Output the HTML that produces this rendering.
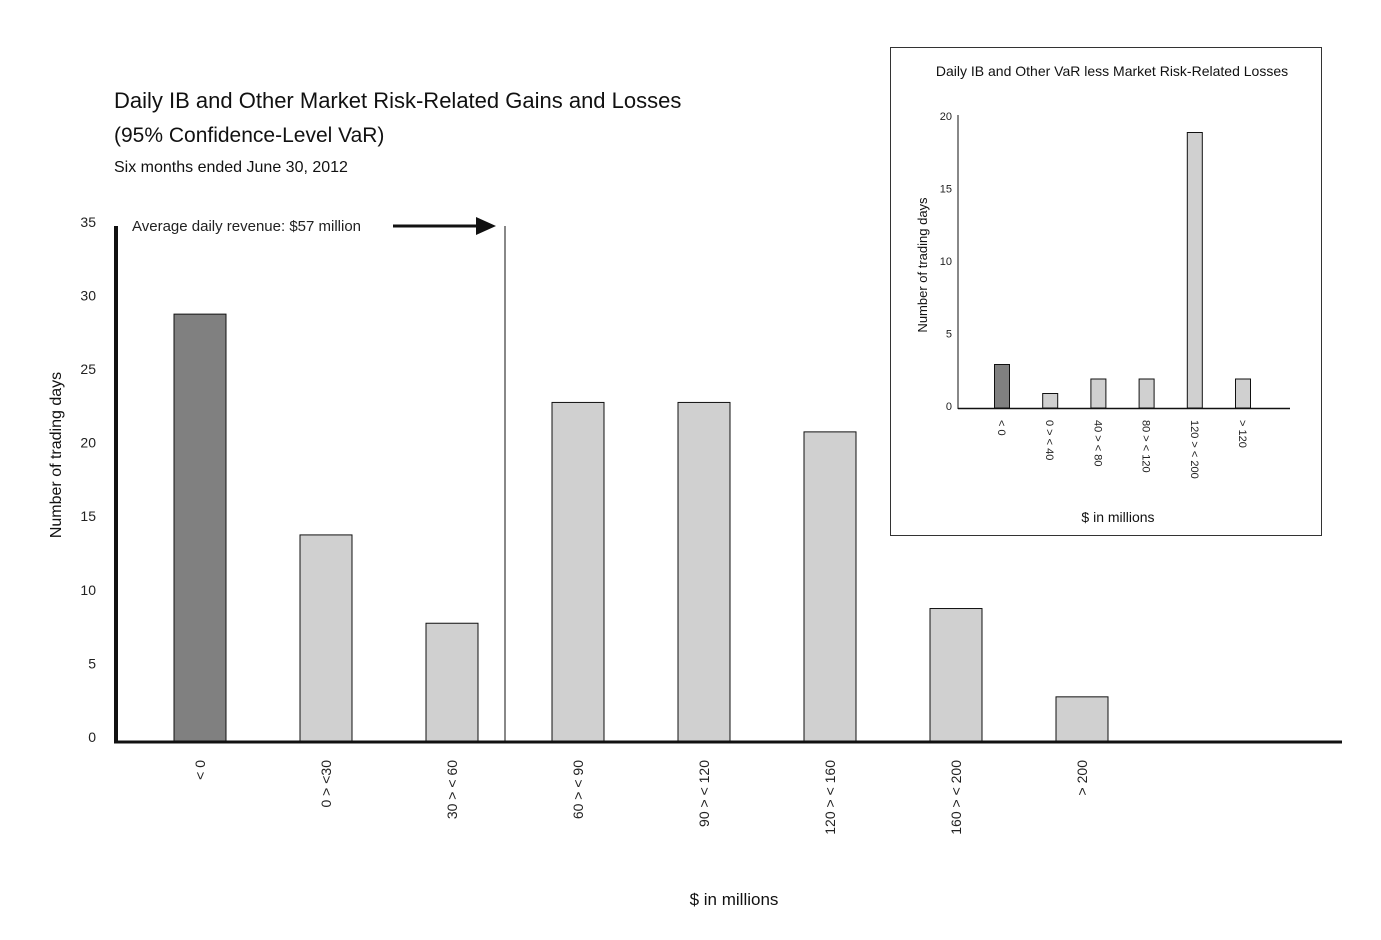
<!DOCTYPE html>
<html><head><meta charset="utf-8"><style>
body{margin:0;background:#fff;}
svg{display:block;font-family:"Liberation Sans",sans-serif;}
</style></head><body>
<svg id="c" width="1381" height="940" viewBox="0 0 1381 940">
<text x="114" y="108" font-size="22" fill="#111">Daily IB and Other Market Risk-Related Gains and Losses</text>
<text x="114" y="142" font-size="21" fill="#111">(95% Confidence-Level VaR)</text>
<text x="114" y="172" font-size="16" fill="#111">Six months ended June 30, 2012</text>
<text x="132" y="231" font-size="15" fill="#222">Average daily revenue: $57 million</text>
<line x1="393" y1="226" x2="478" y2="226" stroke="#111" stroke-width="3"/>
<polygon points="476,217 496,226 476,235" fill="#111"/>
<line x1="505" y1="226" x2="505" y2="741" stroke="#111" stroke-width="1"/>
<text x="734" y="905" font-size="17" text-anchor="middle" fill="#111">$ in millions</text>
<text transform="translate(61,455) rotate(-90)" font-size="16" text-anchor="middle" fill="#111">Number of trading days</text>
<g id="main"></g>
<rect x="890.5" y="47.5" width="431" height="488" fill="#fff" stroke="#333" stroke-width="1"/>
<text x="1112" y="76" font-size="14" text-anchor="middle" fill="#111">Daily IB and Other VaR less Market Risk-Related Losses</text>
<text x="1118" y="522" font-size="14" text-anchor="middle" fill="#111">$ in millions</text>
<text transform="translate(927,265) rotate(-90)" font-size="13" text-anchor="middle" fill="#111">Number of trading days</text>
<g id="inset"></g>
</svg>
<script>
const mainCats=["< 0","0 > <30","30 > < 60","60 > < 90","90 > < 120","120 > < 160","160 > < 200","> 200"];
const mainVals=[29,14,8,23,23,21,9,3];
const mainTicks=[0,5,10,15,20,25,30,35];
const insetCats=["< 0","0 > < 40","40 > < 80","80 > < 120","120 > < 200","> 120"];
const insetVals=[3,1,2,2,19,2];
const insetTicks=[0,5,10,15,20];
const NS="http://www.w3.org/2000/svg";
function mk(p,t,a){const e=document.createElementNS(NS,t);for(const k in a)e.setAttribute(k,a[k]);p.appendChild(e);return e;}
// main
const gm=document.getElementById('main');
const my=v=>741-v*14.72;
const mx=i=>200+i*126;
mainTicks.forEach(t=>{const e=mk(gm,'text',{x:96,y:my(t)+1,'font-size':14,'text-anchor':'end',fill:'#222'});e.textContent=t;

});
mainVals.forEach((v,i)=>{const r=mk(gm,'rect',{x:mx(i)-26,y:my(v),width:52,height:741-my(v),fill:i==0?'#808080':'#d0d0d0',stroke:'#111','stroke-width':1});


const l=mk(gm,'text',{transform:`translate(${mx(i)+5},760) rotate(-90)`,'font-size':14,'text-anchor':'end',fill:'#222'});l.textContent=mainCats[i];

});
let ax=mk(gm,'line',{x1:116,y1:226,x2:116,y2:743,stroke:'#111','stroke-width':4});


ax=mk(gm,'line',{x1:114,y1:742,x2:1342,y2:742,stroke:'#111','stroke-width':3});


// inset
const gi=document.getElementById('inset');
const iy=v=>408-v*14.5;
const ix=i=>1002+i*48.2;
insetTicks.forEach(t=>{const e=mk(gi,'text',{x:952,y:iy(t)+2,'font-size':11,'text-anchor':'end',fill:'#222'});e.textContent=t;

});
insetVals.forEach((v,i)=>{const r=mk(gi,'rect',{x:ix(i)-7.5,y:iy(v),width:15,height:408-iy(v),fill:i==0?'#808080':'#d0d0d0',stroke:'#111','stroke-width':1});


const l=mk(gi,'text',{transform:`translate(${ix(i)-4},420) rotate(90)`,'font-size':11,fill:'#222'});l.textContent=insetCats[i];

});
ax=mk(gi,'line',{x1:958,y1:115,x2:958,y2:409,stroke:'#111','stroke-width':1});


ax=mk(gi,'line',{x1:958,y1:408.5,x2:1290,y2:408.5,stroke:'#111','stroke-width':1.5});


</script>
</body></html>
